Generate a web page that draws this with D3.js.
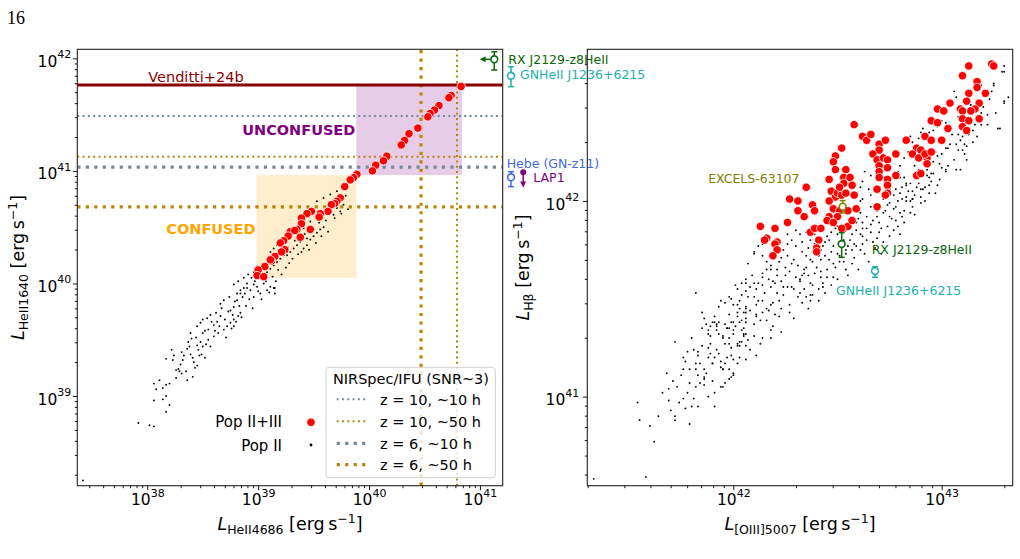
<!DOCTYPE html>
<html>
<head>
<meta charset="utf-8">
<script src="https://cdn.jsdelivr.net/npm/d3@7"></script>
<style>
  body { margin: 0; background: #fff; }
  text { font-family: "DejaVu Sans", sans-serif; }
</style>
</head>
<body>
<div id="chart"></div>
<script>
// ---- data: log10 luminosities [erg/s] ----

// left panel: [log L_HeII4686, log L_HeII1640]
var popIIIHeII = [
  [40.83,41.75],[40.74,41.67],[40.72,41.65],[40.63,41.58],[40.59,41.54],[40.55,41.51],[40.53,41.48],
  [40.44,41.38],[40.36,41.33],[40.32,41.27],[40.29,41.23],[40.16,41.13],[40.13,41.09],[40.06,41.05],
  [40.03,41.00],[39.89,40.97],[39.86,40.94],[39.83,40.92],[39.78,40.86],[39.74,40.76],[39.71,40.73],
  [39.69,40.71],[39.66,40.70],[39.63,40.64],[39.56,40.62],[39.55,40.59],[39.48,40.64],[39.44,40.62],
  [39.39,40.58],[39.39,40.53],[39.47,40.48],[39.35,40.48],[39.29,40.46],[39.33,40.47],[39.27,40.42],
  [39.38,40.41],[39.23,40.38],[39.20,40.36],[39.24,40.30],[39.21,40.28],[39.15,40.24],[39.12,40.20],
  [39.06,40.15],[39.00,40.12],[38.99,40.07],[39.05,40.06],[39.11,40.21]
];
var popIIHeII = [
  [37.42,38.25],[37.92,38.76],[38.02,38.74],[38.06,38.73],[38.06,39.11],[38.08,39.06],[38.06,38.96],
  [38.11,39.14],[38.14,39.07],[38.17,39.10],[38.20,39.11],[38.14,38.97],[38.17,39.00],[38.20,38.92],
  [38.17,38.86],[38.17,39.33],[38.22,39.41],[38.23,39.32],[38.26,39.23],[38.28,39.24],[38.29,39.22],
  [38.31,39.20],[38.32,39.32],[38.36,39.14],[38.31,39.39],[38.36,39.42],[38.39,39.37],[38.41,39.34],
  [38.43,39.25],[38.45,39.27],[38.41,39.17],[38.39,39.56],[38.37,39.48],[38.40,39.51],[38.45,39.45],
  [38.46,39.41],[38.48,39.48],[38.50,39.44],[38.52,39.34],[38.49,39.37],[38.45,39.62],[38.48,39.65],
  [38.50,39.68],[38.54,39.69],[38.57,39.72],[38.50,39.56],[38.55,39.59],[38.60,39.63],[38.63,39.66],
  [38.66,39.71],[38.60,39.53],[38.64,39.56],[38.69,39.59],[38.72,39.62],[38.75,39.65],[38.78,39.68],
  [38.76,39.60],[38.66,39.82],[38.69,39.85],[38.75,39.76],[38.78,39.79],[38.81,39.85],[38.84,39.91],
  [38.87,39.96],[38.90,40.00],[38.93,39.94],[38.96,39.88],[38.99,39.97],[39.02,39.91],[39.05,40.00],
  [39.08,39.94],[39.11,39.97],[39.15,39.96],[39.15,39.91],[38.78,39.62],[38.82,39.71],[38.84,39.74],
  [38.78,39.99],[38.82,40.02],[38.87,40.05],[38.91,40.08],[38.84,39.94],[38.90,39.96],[38.96,39.99],
  [38.81,39.91],[38.88,39.91],[39.14,39.96],[38.96,40.10],[38.99,40.15],[39.05,40.08],[39.08,40.10],
  [39.11,40.13],[39.14,40.16],[39.17,40.19],[39.20,40.22],[39.11,40.28],[39.14,40.31],[39.17,40.34],
  [39.20,40.37],[39.26,40.25],[39.29,40.28],[39.32,40.31],[39.35,40.34],[39.38,40.37],[39.41,40.31],
  [39.44,40.34],[39.47,40.39],[39.50,40.42],[39.53,40.45],[39.56,40.48],[39.59,40.50],[39.29,40.43],
  [39.35,40.46],[39.41,40.49],[39.47,40.55],[39.53,40.58],[39.59,40.61],[39.65,40.64],[39.71,40.67],
  [39.77,40.70],[39.53,40.73],[39.59,40.76],[39.65,40.79],[39.71,40.82],[39.77,40.85],[39.68,40.61],
  [39.74,40.64],[39.23,40.37],[39.20,40.33],
  [38.52,39.58],[38.55,39.50],[38.58,39.66],[38.61,39.58],[38.62,39.74],[38.65,39.62],[38.67,39.78],
  [38.70,39.68],[38.71,39.52],[38.73,39.75],[38.74,39.88],[38.77,39.72],[38.79,39.84],[38.80,39.66],
  [38.83,39.80],[38.85,39.70],[38.86,39.88],[38.89,39.80],[38.92,39.86],[38.94,40.05],[38.95,39.78],
  [38.97,40.02],[39.00,39.93],[39.01,40.06],[39.03,39.86],[39.04,40.14],[39.07,40.02],[39.09,40.18],
  [39.10,39.92],[39.13,40.06],[39.16,40.02],[39.18,40.12],[39.21,40.08],[39.23,40.25],[39.25,40.14],
  [39.27,40.32],[39.28,40.18],[39.31,40.22],[39.33,40.38],[39.36,40.26],[39.39,40.28],[39.42,40.44],
  [39.44,40.40],[39.46,40.30],[39.49,40.50],[39.52,40.36],[39.55,40.54],[39.57,40.42],[39.61,40.56],
  [39.63,40.46],[39.66,40.70],[39.69,40.58],[39.72,40.74],[39.75,40.62],[39.79,40.78],[39.81,40.66],
  [38.30,39.28],[38.33,39.36],[38.35,39.22],[38.38,39.44],[38.42,39.30],[38.44,39.52],[38.47,39.36],
  [38.53,39.46],[38.57,39.44],[38.26,39.16],[38.24,39.36]
];

// right panel: [log L_[OIII]5007, log L_Hbeta]
var popIIIOIII = [
  [43.24,42.70],[43.25,42.69],[43.13,42.69],[43.10,42.64],[43.17,42.61],[43.17,42.58],[43.13,42.55],
  [43.21,42.55],[43.12,42.51],[43.18,42.50],[43.04,42.50],[43.09,42.47],[43.10,42.46],[43.16,42.47],
  [43.14,42.46],[42.98,42.47],[43.01,42.46],[43.10,42.42],[43.13,42.41],[43.18,42.42],[43.10,42.38],
  [43.12,42.36],[42.95,42.41],[42.98,42.40],[43.03,42.37],[42.92,42.33],[42.95,42.31],[43.00,42.31],
  [42.83,42.31],[42.88,42.27],[42.90,42.26],[42.86,42.24],[42.89,42.22],[42.93,42.22],[42.92,42.24],
  [42.95,42.25],[42.93,42.19],[42.88,42.13],[42.90,42.14],[42.58,42.39],[42.62,42.33],[42.64,42.31],
  [42.66,42.34],[42.70,42.29],[42.73,42.31],[42.70,42.26],[42.67,42.24],[42.52,42.27],[42.49,42.23],
  [42.48,42.20],[42.69,42.21],[42.72,42.22],[42.70,42.18],[42.74,42.21],[42.78,42.24],[42.74,42.17],
  [42.70,42.15],[42.70,42.12],[42.78,42.13],[42.74,42.11],[42.74,42.08],[42.74,42.04],[42.73,42.03],
  [42.69,42.06],[42.49,42.16],[42.54,42.16],[42.53,42.12],[42.53,42.09],[42.56,42.12],[42.57,42.08],
  [42.58,42.03],[42.46,42.11],[42.47,42.05],[42.49,42.02],[42.50,42.04],[42.52,42.03],[42.54,42.04],
  [42.51,42.07],[42.35,42.07],[42.27,42.01],[42.31,42.00],[42.38,41.98],[42.34,41.92],[42.39,41.95],
  [42.46,42.00],[42.48,41.96],[42.46,41.92],[42.51,41.95],[42.50,41.92],[42.55,41.95],[42.59,41.96],
  [42.69,41.97],[42.26,41.89],[42.31,41.95],[42.37,41.84],[42.39,41.86],[42.42,41.86],[42.45,41.90],
  [42.48,41.89],[42.53,41.86],[42.55,41.87],[42.57,41.90],[42.13,41.87],[42.20,41.86],[42.16,41.81],
  [42.15,41.80],[42.21,41.79],[42.20,41.78],[42.21,41.75],[42.19,41.72],[42.41,41.80],[42.40,41.76],
  [42.40,41.74],[42.52,41.86]
];
var popIIOIII = [
  [41.33,40.58],[41.58,40.59],[41.62,40.77],[41.54,40.97],[41.69,40.98],[41.69,41.04],[41.72,40.90],
  [41.72,40.88],[41.79,40.86],[41.77,40.94],[41.80,40.95],[41.83,40.95],[41.76,40.99],[41.81,40.99],
  [41.73,41.05],[41.75,41.11],[41.79,41.07],[41.82,41.05],[41.84,41.07],[41.86,41.06],[41.86,41.09],
  [41.86,41.10],[41.83,41.11],[41.82,41.14],[41.76,41.14],[41.77,41.18],[41.76,41.20],[41.78,41.23],
  [41.81,41.24],[41.83,41.23],[41.82,41.17],[41.84,41.17],[41.86,41.14],[41.88,41.00],[41.91,40.95],
  [41.91,41.02],[41.95,41.05],[41.96,41.07],[41.99,41.10],[42.00,41.11],[41.72,41.28],[41.85,41.26],
  [41.88,41.25],[41.89,41.22],[41.88,41.20],[41.90,41.17],[41.91,41.20],[41.93,41.22],[41.94,41.18],
  [41.94,41.15],[41.95,41.14],[41.97,41.20],[41.98,41.14],[41.99,41.21],[42.00,41.19],[42.02,41.26],
  [42.03,41.28],[42.06,41.26],[41.95,41.30],[41.96,41.27],[41.98,41.30],[41.93,41.32],[41.92,41.34],
  [41.91,41.38],[41.88,41.32],[41.89,41.36],[41.89,41.31],[41.88,41.34],[41.86,41.40],[41.85,41.43],
  [41.87,41.37],[41.82,41.53],[41.94,41.49],[41.96,41.48],[41.90,41.38],[41.92,41.37],[41.97,41.35],
  [41.98,41.35],[42.00,41.38],[42.02,41.43],[42.02,41.41],[42.04,41.39],[42.06,41.38],[42.04,41.34],
  [42.06,41.32],[42.05,41.31],[42.00,41.32],[42.02,41.27],[42.04,41.28],[41.99,41.50],[42.02,41.47],
  [42.03,41.45],[42.05,41.43],[42.06,41.45],[42.07,41.51],[42.06,41.54],[41.98,41.51],
  [41.91,41.41],[41.93,41.38],[41.96,41.37],[41.99,41.38],[42.00,41.47],[42.02,41.55],[42.04,41.58],
  [42.06,41.60],[42.03,41.49],[42.06,41.46],[42.08,41.44],[42.10,41.51],[42.11,41.55],[42.12,41.58],
  [42.14,41.61],[42.14,41.63],[42.16,41.65],[42.18,41.67],[42.17,41.60],[42.18,41.56],[42.21,41.53],
  [42.07,41.68],[42.10,41.74],[42.14,41.72],[42.16,41.69],[42.18,41.65],[42.21,41.62],[42.23,41.59],
  [42.26,41.56],[42.22,41.69],[42.25,41.66],[42.27,41.64],[42.30,41.61],[42.32,41.59],[42.24,41.75],
  [42.26,41.72],[42.29,41.70],[42.31,41.67],[42.34,41.65],[42.36,41.62],[42.30,41.77],[42.33,41.74],
  [42.35,41.72],[42.38,41.69],[42.40,41.66],[42.42,41.64],[42.37,41.80],[42.39,41.78],[42.42,41.75],
  [42.44,41.72],[42.46,41.70],[42.45,41.82],[42.47,41.84],[42.50,41.87],[42.54,41.86],[42.57,41.83],
  [42.59,41.85],[42.62,41.89],[42.48,41.77],[42.50,41.73],[42.54,41.73],[42.57,41.75],[42.59,41.77],
  [42.62,41.78],[42.64,41.80],[42.30,41.85],[42.32,41.83],[42.35,41.84],[42.21,41.85],[42.26,41.83],
  [42.28,41.80],[42.10,41.73],[42.12,41.77],[42.14,41.78],[41.92,41.36],[41.97,41.35],[42.03,41.38],
  [42.06,41.40],[42.11,41.42],[42.14,41.43],[42.18,41.47],[42.22,41.49],
  [42.01,41.57],[42.06,41.58],[42.10,41.58],[42.14,41.57],[42.19,41.59],[42.24,41.56],[42.29,41.55],
  [42.32,41.53],[42.35,41.51],[42.38,41.52],[42.41,41.55],[42.43,41.58],[42.14,41.49],[42.19,41.48],
  [42.23,41.45],[42.27,41.43],[42.33,41.48],[42.37,41.49],[42.06,41.43],[42.11,41.41],[42.16,41.39],
  [42.19,41.36],[42.23,41.33],[42.00,41.34],[42.05,41.32],[42.10,41.31],[42.14,41.30],[42.18,41.34],
  [41.98,41.27],[42.03,41.26],[42.08,41.24],[42.11,41.21],[42.06,41.19],[42.02,41.17],[41.90,41.17],
  [41.95,41.14],[42.00,41.12],[41.98,41.09],[41.94,41.05],
  [42.59,41.89],[42.62,41.86],[42.66,41.84],[42.69,41.81],[42.72,41.79],[42.61,41.94],[42.64,41.92],
  [42.67,41.90],[42.70,41.89],[42.74,41.87],[42.77,41.85],[42.80,41.83],[42.66,41.97],[42.69,41.95],
  [42.72,41.94],[42.75,41.92],[42.78,41.90],[42.82,41.89],[42.72,42.01],[42.75,41.99],[42.78,41.97],
  [42.82,41.95],[42.85,41.94],[42.80,42.04],[42.83,42.02],[42.86,42.01],[42.90,41.99],[42.85,42.09],
  [42.88,42.07],[42.91,42.06],[42.94,42.04],[42.98,42.08],[42.99,42.11],[42.93,42.13],[42.96,42.14],
  [43.02,42.15],[43.07,42.16],[42.32,41.60],[42.34,41.63],[42.35,41.66],[42.37,41.70],[42.40,41.73],
  [42.43,41.77],[42.46,41.80],[42.50,41.83],[42.53,41.86],[42.38,41.57],[42.42,41.61],[42.45,41.65],
  [42.48,41.68],[42.51,41.72],[42.54,41.75],[42.58,41.78],[42.61,41.75],[42.54,41.65],[42.48,41.61],
  [42.43,41.56],[42.37,41.52],
  [43.30,42.69],[43.30,42.66],[43.29,42.66],[43.25,42.59],[43.19,42.59],[43.32,42.53],[43.30,42.50],
  [43.22,42.44],[43.22,42.39],[43.19,42.39],[43.27,42.37],[43.15,42.36],[43.13,42.34],[43.10,42.33],
  [43.08,42.34],[43.15,42.30],[43.11,42.29],[43.09,42.31],[43.07,42.29],[43.10,42.26],[43.11,42.24],
  [43.12,42.21],[43.07,42.53],[43.06,42.56],[43.05,42.50],[43.02,42.47],[43.02,42.40],[43.00,42.41],
  [42.98,42.38],[42.96,42.36],[42.94,42.35],[42.91,42.37],[42.90,42.35],[42.89,42.32],[42.86,42.30],
  [42.85,42.33],[42.83,42.31],[43.04,42.29],[43.02,42.27],[43.00,42.24],[42.98,42.23],[43.03,42.18],
  [43.02,42.16],[43.09,42.16],[42.96,42.20],[42.94,42.18],[42.93,42.16],[42.94,42.12],[42.94,42.08],
  [42.92,42.07],[42.90,42.06],[42.87,42.03],[42.86,42.05],[42.82,42.12],[42.83,42.09],[42.81,42.07],
  [42.80,42.12],[42.78,42.06],[42.77,42.03],[42.75,42.06],[42.84,42.25],[42.82,42.22],[42.80,42.18],
  [42.79,42.15],[42.87,42.18],[42.89,42.16],[42.91,42.13],[42.66,42.13],[42.63,42.15],[42.62,42.10],
  [42.61,42.07],[42.65,42.06],[42.66,42.03],[42.62,42.01],[42.61,42.00],[42.59,42.03],[42.81,42.01],
  [42.83,42.00],[42.86,42.01],[43.30,42.51],[43.28,42.37],[43.25,42.60],
  [42.09,41.62],[42.11,41.47],[42.13,41.39],[42.15,41.53],[42.17,41.44],[42.20,41.58],[42.22,41.41],
  [42.24,41.52],[42.25,41.62],[42.27,41.47],[42.28,41.56],[42.29,41.40],[42.31,41.51],[42.33,41.62],
  [42.34,41.55],[42.36,41.45],[42.37,41.58],[42.39,41.63],[42.41,41.49],[42.42,41.70],[42.44,41.53],
  [42.45,41.61],[42.47,41.57],[42.49,41.66],[42.50,41.60],[42.52,41.79],[42.53,41.69],[42.55,41.62],
  [42.56,41.80],[42.58,41.71],[42.60,41.65],[42.61,41.83],[42.63,41.73],[42.65,41.69],[42.66,41.88],
  [42.68,41.76],[42.70,41.84],[42.71,41.73],[42.73,41.95],[42.75,41.82],[42.77,41.96],[42.79,41.87],
  [42.81,41.92],[42.84,42.05],[42.86,41.97],[42.88,42.12],[42.90,42.02],[42.92,42.18],[42.95,42.10],
  [42.97,42.25],[43.00,42.17],[43.03,42.27],[43.06,42.21],[43.08,42.43],[43.11,42.38],[43.14,42.49],
  [43.17,42.33],[43.20,42.48],[43.23,42.52],[43.26,42.45],
  [41.80,41.30],[41.83,41.21],[41.85,41.35],[41.87,41.12],[41.89,41.27],[41.90,41.08],[41.92,41.24],
  [41.93,41.46],[41.95,41.31],[41.96,41.17],[41.98,41.42],[41.99,41.25],[42.01,41.36],[42.03,41.20],
  [42.04,41.52],[42.05,41.35],[42.07,41.29],[42.08,41.56],[42.10,41.37],[42.12,41.49],[42.13,41.27],
  [42.16,41.45],[42.18,41.30],[42.20,41.42],[42.21,41.65],[42.23,41.71],[41.64,40.90],[41.66,41.02],
  [41.70,40.93],[41.71,41.08],[41.74,40.97],[41.78,41.02],[41.79,41.14],[41.68,41.12],[41.60,40.85],
  [41.55,40.88],
  [42.26,41.78],[42.28,41.68],[42.33,41.79],[42.36,41.76],[42.39,41.83],[42.41,41.72],[42.44,41.79],
  [42.47,41.74],[42.49,41.86],[42.51,41.69],[42.53,41.80],[42.55,41.77],[42.57,41.68],[42.60,41.91],
  [42.62,41.82],[42.64,41.86],[42.67,41.79],[42.69,41.92],[42.71,41.86],[42.74,41.98],[42.76,41.91],
  [42.79,42.00],[42.80,41.94],[42.83,42.08],[42.85,42.00],[42.87,41.93],[42.89,42.09],[42.92,42.00],
  [42.95,42.14],[42.97,42.04],[42.99,42.19],[43.01,42.30],[43.05,42.34],[43.08,42.26],[43.12,42.28],
  [43.16,42.39],[43.19,42.45],[43.24,42.56]
];

// observed sources: left [log 4686, log 1640, err lo, err hi], right [log OIII, log Hb, err lo, err hi]
var obsNames = ["RX J2129-z8HeII", "GNHeII J1236+6215", "Hebe (GN-z11)", "LAP1", "EXCELS-63107"];
var obsHeII = [
  [41.129, 41.991, 41.896, 42.059],
  [41.28, 41.845, 41.748, 41.925],
  [41.28, 40.943, 40.86, 40.993],
  [41.39, 40.988, 40.86, 40.988],
  null
];
var obsOIII = [
  [42.52, 41.78, 41.712, 41.838],
  [42.68, 41.642, 41.61, 41.664],
  null,
  null,
  [42.525, 41.971, 41.94, 42.002]
];
var rxUpperLimit4686 = 41.006; // arrow tip for the 4686 upper limit

// NIRSpec/IFU (SNR~3) sensitivity limits
var sensLabels = ["z = 10, ~10 h", "z = 10, ~50 h", "z = 6, ~10 h", "z = 6, ~50 h"];
var sensHeII1640 = [41.488, 41.126, 41.033, 40.68];
var sensHeII4686 = [null, 40.793, null, 40.469];

var vendittiLimit = 41.763;
// [x0, x1, y0, y1] in log L
var confusedBox = [38.985, 39.885, 40.05, 40.962];
var unconfusedBox = [39.885, 40.839, 40.962, 41.763];

// ---- styles ----
var sensColors = ["#778899", "#b8860b", "#778899", "#b8860b"];
var sensWidths = [2, 2, 3.2, 3.2];
var obsColors = ["#0b650b", "#20b2aa", "#4169e1", "#800080", "#808000"];
var redR = 4.2, dotR = 0.95;

function L(v) { return Math.pow(10, v); }

var svg = d3.select("#chart").append("svg")
  .attr("width", 1020)
  .attr("height", 559);
svg.append("rect").attr("width", 1020).attr("height", 559).attr("fill", "#fff");

svg.append("text")
  .attr("x", 7).attr("y", 24)
  .style("font-family", "'Liberation Serif', serif")
  .style("font-size", "18px")
  .text("16");

// scales
var xL = d3.scaleLog().domain([L(37.369), L(41.205)]).range([77.3, 502.7]);
var yL = d3.scaleLog().domain([L(38.203), L(42.08)]).range([485.7, 49.3]);
var xR = d3.scaleLog().domain([L(41.299), L(43.341)]).range([587.3, 1012.7]);
var yR = d3.scaleLog().domain([L(40.545), L(42.775)]).range([485.7, 49.3]);

function decades(scale) {
  var d = scale.domain(), out = [];
  for (var e = Math.ceil(Math.log10(d[0]) - 1e-9); e <= Math.log10(d[1]); e++) out.push(L(e));
  return out;
}
function minors(scale) {
  var d = scale.domain(), out = [];
  for (var e = Math.floor(Math.log10(d[0])); e <= Math.ceil(Math.log10(d[1])); e++) {
    for (var k = 2; k < 10; k++) {
      var v = k * L(e);
      if (v >= d[0] && v <= d[1]) out.push(v);
    }
  }
  return out;
}

function powerLabel(sel, dy) {
  sel.each(function(d) {
    var t = d3.select(this);
    t.text(null).attr("dy", dy).style("font-size", "15.5px").attr("fill", "#000");
    t.append("tspan").text("10");
    t.append("tspan").attr("dy", -8.5).style("font-size", "11px").text(Math.round(Math.log10(d)));
  });
}

function drawAxes(x, y, yPad) {
  var y0 = y.range()[0], x0 = x.range()[0];
  var gx = svg.append("g").attr("transform", "translate(0," + y0 + ")");
  gx.append("g").call(d3.axisBottom(x).tickValues(minors(x)).tickSize(2.5).tickFormat(""));
  var gxMaj = gx.append("g").call(d3.axisBottom(x).tickValues(decades(x)).tickSize(4.5).tickPadding(4));
  gxMaj.selectAll(".tick text").call(powerLabel, "0.71em");
  var gy = svg.append("g").attr("transform", "translate(" + x0 + ",0)");
  gy.append("g").call(d3.axisLeft(y).tickValues(minors(y)).tickSize(2.5).tickFormat(""));
  var gyMaj = gy.append("g").call(d3.axisLeft(y).tickValues(decades(y)).tickSize(4.5).tickPadding(yPad));
  gyMaj.selectAll(".tick text").call(powerLabel, "0.52em");
  svg.selectAll(".domain").remove();
  svg.selectAll(".tick line").attr("stroke", "#000").attr("stroke-width", 0.9);
}

function frame(x, y) {
  svg.append("rect")
    .attr("x", x.range()[0]).attr("y", y.range()[1])
    .attr("width", x.range()[1] - x.range()[0])
    .attr("height", y.range()[0] - y.range()[1])
    .attr("fill", "none").attr("stroke", "#222").attr("stroke-width", 1.1);
}

function clip(id, x, y) {
  svg.append("clipPath").attr("id", id).append("rect")
    .attr("x", x.range()[0]).attr("y", y.range()[1])
    .attr("width", x.range()[1] - x.range()[0])
    .attr("height", y.range()[0] - y.range()[1]);
}

function axisTitle(parent, sub, tx, ty, rotate) {
  var t = parent.append("text")
    .attr("text-anchor", "middle")
    .attr("transform", "translate(" + tx + "," + ty + ")" + (rotate ? " rotate(-90)" : ""))
    .style("font-size", "17.5px");
  t.append("tspan").style("font-style", "italic").text("L");
  t.append("tspan").attr("dy", 4).style("font-size", "12.5px").text(sub);
  t.append("tspan").attr("dy", -4).text(" [erg\u2009s");
  t.append("tspan").attr("dy", -7).style("font-size", "12.5px").text("\u22121");
  t.append("tspan").attr("dy", 7).text("]");
}

clip("clipL", xL, yL);
clip("clipR", xR, yR);

// ---------------- left panel ----------------
var left = svg.append("g");
var leftPlot = left.append("g").attr("clip-path", "url(#clipL)");

function box(b, color) {
  leftPlot.append("rect")
    .attr("x", xL(L(b[0]))).attr("y", yL(L(b[3])))
    .attr("width", xL(L(b[1])) - xL(L(b[0])))
    .attr("height", yL(L(b[2])) - yL(L(b[3])))
    .attr("fill", color).attr("fill-opacity", 0.2);
}
box(confusedBox, "#ffa500");
box(unconfusedBox, "#800080");

sensHeII1640.forEach(function(v, i) {
  leftPlot.append("line")
    .attr("x1", xL.range()[0]).attr("x2", xL.range()[1])
    .attr("y1", yL(L(v))).attr("y2", yL(L(v)))
    .attr("stroke", sensColors[i]).attr("stroke-width", sensWidths[i])
    .attr("stroke-dasharray", sensWidths[i] + "," + (sensWidths[i] * 1.65));
});
sensHeII4686.forEach(function(v, i) {
  if (v === null) return;
  leftPlot.append("line")
    .attr("y1", yL.range()[0]).attr("y2", yL.range()[1])
    .attr("x1", xL(L(v))).attr("x2", xL(L(v)))
    .attr("stroke", sensColors[i]).attr("stroke-width", sensWidths[i])
    .attr("stroke-dasharray", sensWidths[i] + "," + (sensWidths[i] * 1.65));
});

leftPlot.append("line")
  .attr("x1", xL.range()[0]).attr("x2", xL.range()[1])
  .attr("y1", yL(L(vendittiLimit))).attr("y2", yL(L(vendittiLimit)))
  .attr("stroke", "#8b0000").attr("stroke-width", 3);

leftPlot.selectAll(".pop2")
  .data(popIIHeII)
  .enter().append("circle")
  .attr("cx", function(d) { return xL(L(d[0])); })
  .attr("cy", function(d) { return yL(L(d[1])); })
  .attr("r", dotR)
  .attr("fill", "#000");

leftPlot.selectAll(".pop3")
  .data(popIIIHeII)
  .enter().append("circle")
  .attr("cx", function(d) { return xL(L(d[0])); })
  .attr("cy", function(d) { return yL(L(d[1])); })
  .attr("r", redR)
  .attr("fill", "#ff0000")
  .attr("stroke", "#fff").attr("stroke-width", 0.8);

left.append("text")
  .attr("x", xL(L(38.0)) + 1).attr("y", yL(L(vendittiLimit)) - 3)
  .attr("fill", "#8b0000").style("font-size", "14.5px")
  .text("Venditti+24b");
left.append("text")
  .attr("x", xL(L(unconfusedBox[0])) - 1).attr("y", 134.5)
  .attr("text-anchor", "end").attr("fill", "#800080")
  .style("font-size", "14.5px").style("font-weight", "bold")
  .text("UNCONFUSED");
left.append("text")
  .attr("x", xL(L(confusedBox[0])) - 1).attr("y", 234)
  .attr("text-anchor", "end").attr("fill", "#ffa500")
  .style("font-size", "14.5px").style("font-weight", "bold")
  .text("CONFUSED");

// observed sources (markers with error bars)
function errBar(g, cx, ya, yb, color) {
  g.append("line").attr("x1", cx).attr("x2", cx).attr("y1", ya).attr("y2", yb)
    .attr("stroke", color).attr("stroke-width", 1.5);
  [ya, yb].forEach(function(yy) {
    g.append("line").attr("x1", cx - 3).attr("x2", cx + 3).attr("y1", yy).attr("y2", yy)
      .attr("stroke", color).attr("stroke-width", 1.5);
  });
}
function openMarker(g, cx, cy, color) {
  g.append("circle").attr("cx", cx).attr("cy", cy).attr("r", 3.4)
    .attr("fill", "#fff").attr("stroke", color).attr("stroke-width", 1.6);
}

var obsL = svg.append("g");
obsHeII.forEach(function(d, i) {
  if (!d) return;
  var cx = xL(L(d[0])), cy = yL(L(d[1])), c = obsColors[i];
  if (i === 3) {
    // LAP1 upper limit in HeII1640
    var yTip = yL(L(d[2]));
    obsL.append("line").attr("x1", cx).attr("x2", cx).attr("y1", cy).attr("y2", yTip - 4)
      .attr("stroke", c).attr("stroke-width", 1.5);
    obsL.append("path").attr("d", "M" + (cx - 3) + "," + (yTip - 5) + "L" + (cx + 3) + "," + (yTip - 5) + "L" + cx + "," + (yTip + 1) + "Z")
      .attr("fill", c);
    obsL.append("circle").attr("cx", cx).attr("cy", cy).attr("r", 3).attr("fill", c);
    return;
  }
  errBar(obsL, cx, yL(L(d[2])), yL(L(d[3])), c);
  if (i === 0) {
    var xTip = xL(L(rxUpperLimit4686));
    obsL.append("line").attr("x1", cx).attr("x2", xTip + 4).attr("y1", cy).attr("y2", cy)
      .attr("stroke", c).attr("stroke-width", 1.5);
    obsL.append("path").attr("d", "M" + (xTip + 5) + "," + (cy - 3) + "L" + (xTip + 5) + "," + (cy + 3) + "L" + (xTip - 1) + "," + cy + "Z")
      .attr("fill", c);
  }
  openMarker(obsL, cx, cy, c);
});
var leftLabelPos = [[508.3, 64], [520, 79], [506.7, 168], [533.3, 181.7]];
leftLabelPos.forEach(function(p, i) {
  obsL.append("text").attr("x", p[0]).attr("y", p[1])
    .attr("fill", obsColors[i]).style("font-size", "12.5px").text(obsNames[i]);
});

// legends
var leg = svg.append("g");
leg.append("text").attr("x", 282).attr("y", 427).attr("text-anchor", "end")
  .style("font-size", "15px").text("Pop II+III");
leg.append("circle").attr("cx", 311).attr("cy", 422.3).attr("r", redR)
  .attr("fill", "#ff0000").attr("stroke", "#fff").attr("stroke-width", 0.8);
leg.append("text").attr("x", 282).attr("y", 450.5).attr("text-anchor", "end")
  .style("font-size", "15px").text("Pop II");
leg.append("circle").attr("cx", 311).attr("cy", 445).attr("r", 1.4).attr("fill", "#000");

leg.append("rect").attr("x", 326).attr("y", 367.3).attr("width", 169.3).attr("height", 110.4)
  .attr("rx", 3).attr("fill", "#fff").attr("fill-opacity", 0.8)
  .attr("stroke", "#d0d0d0").attr("stroke-width", 1);
leg.append("text").attr("x", 411).attr("y", 384.3).attr("text-anchor", "middle")
  .style("font-size", "14.5px").text("NIRSpec/IFU (SNR~3)");
var legRowY = [399.3, 421.3, 443.3, 464.7];
sensLabels.forEach(function(lab, i) {
  leg.append("line").attr("x1", 336.7).attr("x2", 368.3)
    .attr("y1", legRowY[i]).attr("y2", legRowY[i])
    .attr("stroke", sensColors[i]).attr("stroke-width", sensWidths[i])
    .attr("stroke-dasharray", sensWidths[i] + "," + (sensWidths[i] * 1.65));
  leg.append("text").attr("x", 380).attr("y", legRowY[i] + 5.5)
    .style("font-size", "14.5px").text(lab);
});

frame(xL, yL);
drawAxes(xL, yL, 1.5);
axisTitle(svg, "HeII4686", 290, 530, false);
axisTitle(svg, "HeII1640", 23.5, 267.5, true);

// ---------------- right panel ----------------
var rightPlot = svg.append("g").attr("clip-path", "url(#clipR)");
rightPlot.selectAll(".pop2")
  .data(popIIOIII)
  .enter().append("circle")
  .attr("cx", function(d) { return xR(L(d[0])); })
  .attr("cy", function(d) { return yR(L(d[1])); })
  .attr("r", dotR)
  .attr("fill", "#000");
rightPlot.selectAll(".pop3")
  .data(popIIIOIII)
  .enter().append("circle")
  .attr("cx", function(d) { return xR(L(d[0])); })
  .attr("cy", function(d) { return yR(L(d[1])); })
  .attr("r", redR)
  .attr("fill", "#ff0000")
  .attr("stroke", "#fff").attr("stroke-width", 0.8);

var obsR = svg.append("g");
obsOIII.forEach(function(d, i) {
  if (!d) return;
  var cx = xR(L(d[0])), cy = yR(L(d[1])), c = obsColors[i];
  errBar(obsR, cx, yR(L(d[2])), yR(L(d[3])), c);
  openMarker(obsR, cx, cy, c);
});
obsR.append("text").attr("x", 871.7).attr("y", 254)
  .attr("fill", obsColors[0]).style("font-size", "12.5px").text(obsNames[0]);
obsR.append("text").attr("x", 836).attr("y", 295)
  .attr("fill", obsColors[1]).style("font-size", "12.5px").text(obsNames[1]);
obsR.append("text").attr("x", 799.5).attr("y", 182.5).attr("text-anchor", "end")
  .attr("fill", obsColors[4]).style("font-size", "12.5px").text(obsNames[4]);

frame(xR, yR);
drawAxes(xR, yR, 3.5);
axisTitle(svg, "[OIII]5007", 800, 530, false);
axisTitle(svg, "H\u03b2", 529, 267.5, true);
</script>
</body>
</html>
